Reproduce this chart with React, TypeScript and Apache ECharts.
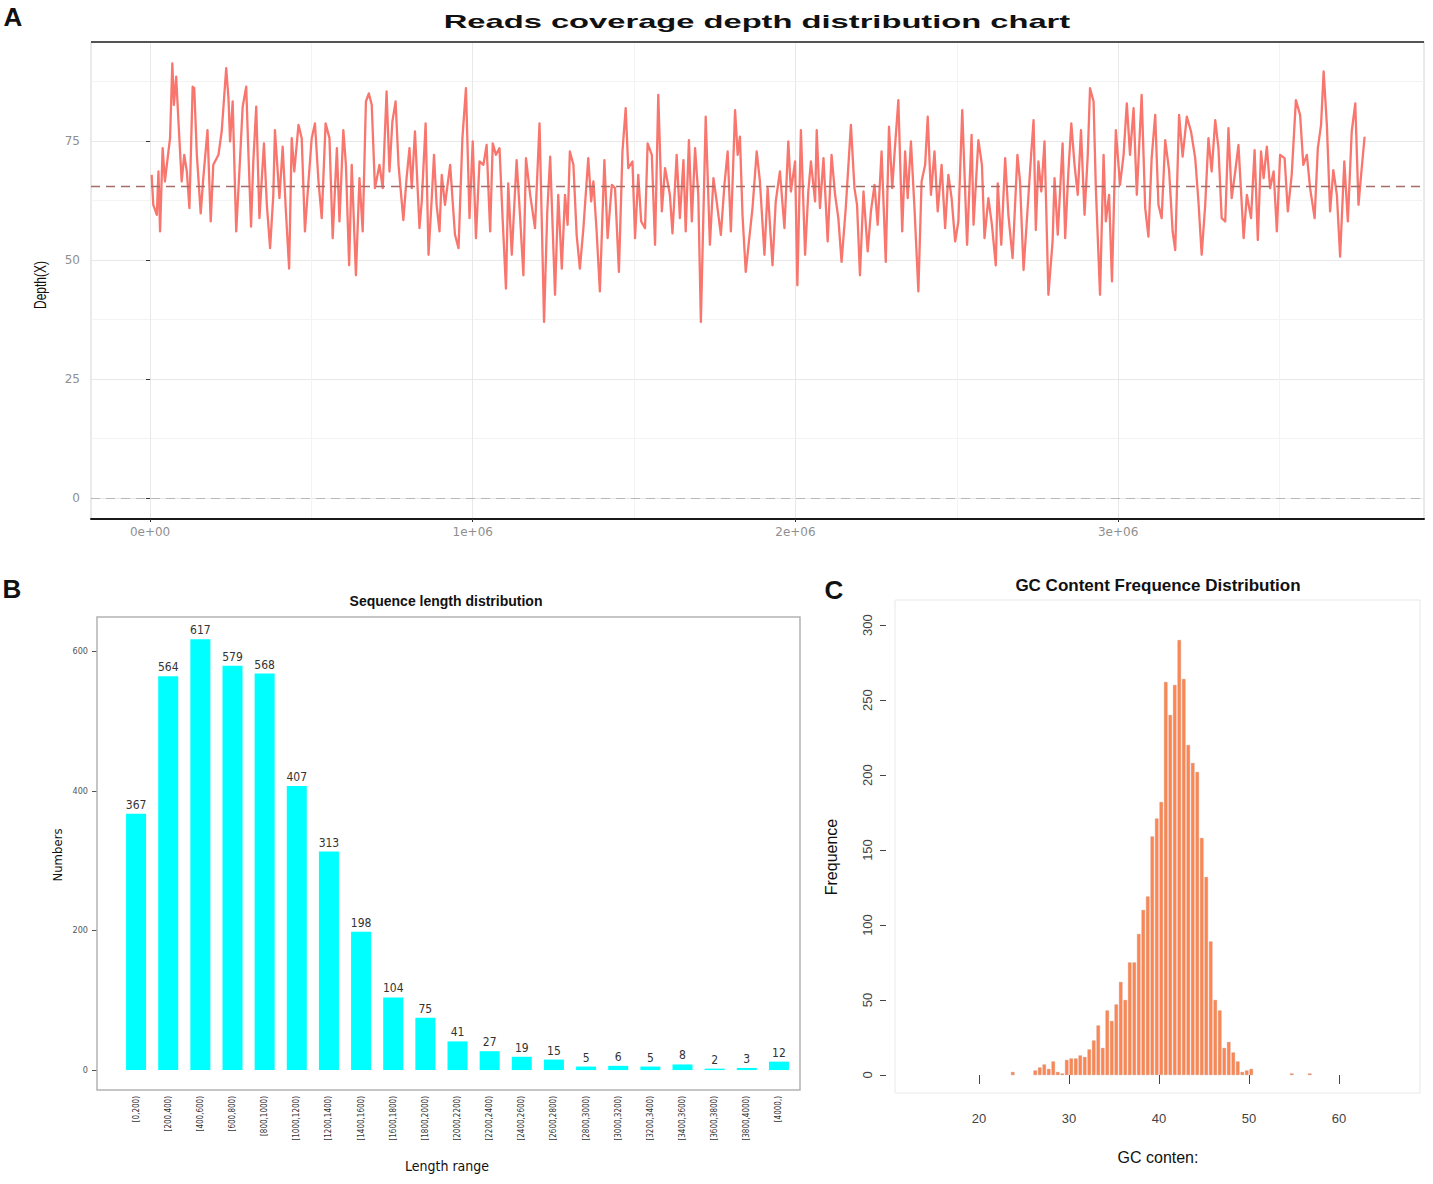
import React, { useEffect, useRef } from "react";
import * as echarts from "echarts";

// ---------- Panel A: reads coverage depth (position in kb, depth X) ----------
const depthPoints: [number, number][] = [
  [5,67.9],[10,61.6],[21,59.5],[26,68.6],[31,56.0],[39,73.5],[46,66.5],[52,70.0],[62,75.6],[69,91.3],[74,82.6],[81,88.5],[88,79.1],[98,66.5],[106,72.1],[114,68.6],[122,60.9],[132,86.4],[137,86.1],[145,72.1],[157,59.8],[165,67.2],[178,77.3],[188,58.1],[196,70.0],[212,72.1],[222,77.0],[236,90.3],[243,84.0],[248,74.9],[256,83.3],[267,56.0],[279,71.4],[287,82.2],[298,86.4],[305,72.1],[313,57.0],[320,70.7],[329,82.2],[339,58.8],[353,74.5],[362,61.6],[372,52.5],[382,63.7],[387,77.3],[401,63.0],[411,73.8],[421,60.2],[431,48.2],[439,75.6],[447,68.6],[460,78.4],[470,75.6],[480,56.0],[491,66.5],[501,75.6],[511,78.7],[522,66.5],[532,58.8],[544,78.7],[556,75.6],[566,54.6],[579,73.5],[587,58.1],[599,77.3],[607,70.0],[617,48.9],[625,70.0],[638,46.8],[649,67.2],[659,56.0],[669,83.3],[678,85.0],[687,82.6],[697,65.1],[711,70.0],[721,65.1],[733,85.4],[742,68.6],[751,79.1],[761,83.3],[770,70.0],[785,58.4],[795,67.2],[804,73.5],[811,65.1],[821,77.0],[835,56.7],[842,62.3],[854,78.7],[863,51.1],[873,63.0],[880,72.1],[888,61.6],[897,56.0],[904,67.9],[914,61.6],[930,70.0],[945,55.3],[956,52.5],[968,75.6],[979,86.1],[990,58.8],[1000,74.9],[1010,54.6],[1021,70.7],[1033,70.0],[1043,74.2],[1054,56.0],[1062,74.5],[1072,72.1],[1083,73.5],[1093,58.1],[1103,44.0],[1110,66.1],[1121,51.1],[1136,71.0],[1147,58.8],[1157,46.8],[1165,71.4],[1178,63.7],[1193,56.7],[1207,78.7],[1214,58.1],[1221,37.0],[1231,60.2],[1240,71.7],[1255,42.7],[1265,63.7],
  [1270,56.7],[1276,48.2],[1286,63.7],[1294,57.4],[1301,72.8],[1312,70.0],[1322,55.3],[1332,48.2],[1343,56.7],[1358,71.4],[1367,62.3],[1374,66.5],[1384,56.0],[1394,43.4],[1408,71.0],[1418,54.6],[1431,65.8],[1441,65.1],[1453,47.5],[1464,72.8],[1474,81.9],[1482,69.3],[1495,70.7],[1503,54.6],[1513,67.9],[1522,58.1],[1534,56.7],[1542,74.5],[1555,72.1],[1565,53.2],[1575,84.7],[1586,60.2],[1596,69.3],[1611,63.7],[1619,55.6],[1632,72.1],[1642,58.8],[1653,71.0],[1660,56.0],[1670,75.2],[1679,58.1],[1689,73.5],[1699,63.7],[1707,37.0],[1722,80.1],[1735,53.2],[1746,67.2],[1756,62.3],[1769,55.3],[1780,65.8],[1790,72.8],[1800,56.0],[1813,81.5],[1821,72.1],[1828,75.9],[1836,59.5],[1846,47.5],[1856,53.9],[1867,60.9],[1880,72.8],[1890,66.5],[1904,51.1],[1914,65.1],[1929,48.9],[1939,62.3],[1952,68.6],[1966,56.7],[1978,74.9],[1986,64.4],[1999,70.7],[2006,44.7],[2017,77.3],[2030,51.1],[2040,64.4],[2048,70.7],[2061,62.3],[2066,77.3],[2076,60.9],[2087,71.4],[2100,53.9],[2112,72.1],[2123,63.7],[2133,58.8],[2143,49.6],[2156,60.9],[2172,78.4],[2183,65.1],[2191,61.6],[2200,46.8],[2211,64.4],[2224,51.8],[2234,60.2],[2245,65.8],[2255,57.4],[2267,72.8],[2280,49.6],[2290,78.0],[2300,65.1],[2309,74.2],[2319,83.6],[2331,56.0],[2340,72.8],[2348,63.0],[2358,74.9],[2369,60.9],[2381,43.4],[2391,66.5],[2402,70.0],[2410,80.1],[2420,63.7],[2431,72.8],[2441,60.2],[2453,70.0],[2464,56.7],[2474,67.9],[2484,63.0],[2495,53.9],[2505,58.1],[2517,81.5],[2532,53.2],[2546,76.3],
  [2552,57.4],[2567,75.2],[2578,70.0],[2586,54.6],[2598,63.0],[2609,57.4],[2621,48.9],[2627,66.1],[2638,53.2],[2650,71.4],[2660,59.5],[2673,50.4],[2688,72.1],[2696,66.5],[2707,47.9],[2717,58.1],[2727,68.6],[2738,79.4],[2745,56.3],[2753,70.7],[2762,64.4],[2772,74.9],[2784,42.7],[2797,53.9],[2803,67.2],[2813,55.3],[2828,74.5],[2836,54.6],[2846,68.6],[2855,78.7],[2865,70.0],[2875,63.7],[2885,77.3],[2896,59.5],[2906,72.1],[2913,86.1],[2924,83.3],[2931,65.1],[2944,42.7],[2955,72.1],[2962,58.1],[2972,63.7],[2981,45.5],[2993,77.3],[3006,65.8],[3017,72.1],[3027,82.9],[3037,72.1],[3048,81.9],[3058,63.7],[3073,84.7],[3084,60.9],[3094,54.9],[3104,71.4],[3115,80.5],[3125,61.6],[3135,58.8],[3146,75.2],[3158,68.9],[3169,56.0],[3177,52.1],[3189,80.5],[3200,71.7],[3213,80.1],[3226,77.0],[3239,71.4],[3249,62.3],[3259,51.1],[3270,61.6],[3280,75.6],[3290,68.6],[3301,79.4],[3311,73.5],[3321,58.8],[3332,58.1],[3342,77.7],[3352,63.0],[3363,68.6],[3373,74.2],[3389,54.6],[3399,63.7],[3412,58.8],[3423,73.1],[3433,54.2],[3443,72.8],[3451,67.2],[3461,73.8],[3471,65.1],[3482,68.6],[3492,56.0],[3502,72.1],[3516,71.4],[3526,60.2],[3538,67.9],[3551,83.6],[3564,80.5],[3574,70.0],[3585,72.1],[3595,65.1],[3609,58.8],[3619,73.5],[3629,78.4],[3637,89.6],[3647,78.4],[3657,60.2],[3667,68.9],[3678,63.7],[3688,50.7],[3701,70.7],[3712,58.1],[3724,77.0],[3735,82.9],[3745,61.6],[3755,69.3],[3764,75.9],
];
const depthMean = 65.5;
const depthXTicksKb = [0, 1000, 2000, 3000];
const depthXTickLabels = ["0e+00", "1e+06", "2e+06", "3e+06"];
const depthXMinorKb = [500, 1500, 2500, 3500];
const depthYTicks = [0, 25, 50, 75];
const depthYMinor = [12.5, 37.5, 62.5, 87.5];

// ---------- Panel B: sequence length distribution ----------
const lengthCategories = [
  "[0,200)", "[200,400)", "[400,600)", "[600,800)", "[800,1000)", "[1000,1200)", "[1200,1400)",
  "[1400,1600)", "[1600,1800)", "[1800,2000)", "[2000,2200)", "[2200,2400)", "[2400,2600)",
  "[2600,2800)", "[2800,3000)", "[3000,3200)", "[3200,3400)", "[3400,3600)", "[3600,3800)",
  "[3800,4000)", "[4000,)",
];
const lengthCounts = [367, 564, 617, 579, 568, 407, 313, 198, 104, 75, 41, 27, 19, 15, 5, 6, 5, 8, 2, 3, 12];
const lengthYTicks = [0, 200, 400, 600];

// ---------- Panel C: GC content histogram (bin centre, frequency) ----------
const gcBinCentres = [
  23.75, 26.25, 26.75, 27.25, 27.75, 28.25, 28.75, 29.25, 29.75, 30.25, 30.75, 31.25, 31.75, 32.25,
  32.75, 33.25, 33.75, 34.25, 34.75, 35.25, 35.75, 36.25, 36.75, 37.25, 37.75, 38.25, 38.75, 39.25,
  39.75, 40.25, 40.75, 41.25, 41.75, 42.25, 42.75, 43.25, 43.75, 44.25, 44.75, 45.25, 45.75, 46.25,
  46.75, 47.25, 47.75, 48.25, 48.75, 49.25, 49.75, 50.25, 54.75, 56.75,
];
const gcFrequencies = [
  2, 3, 5, 7, 4, 9, 2, 1, 10, 11, 11, 13, 12, 17,
  23, 33, 18, 43, 36, 47, 62, 50, 75, 75, 94, 110, 119, 159,
  171, 182, 262, 240, 260, 290, 264, 220, 208, 202, 158, 132, 89, 50,
  43, 18, 22, 15, 9, 2, 3, 4, 1, 1,
];
const gcXTicks = [20, 30, 40, 50, 60];
const gcYTicks = [0, 50, 100, 150, 200, 250, 300];

const FONT = "'Liberation Sans', Arial, Helvetica, sans-serif";
const WIDE = "'DejaVu Sans', Verdana, sans-serif";
const NARROW = "'Liberation Sans Narrow', 'DejaVu Sans Condensed', 'Liberation Sans', sans-serif";

function measure(text: string, font: string): number {
  const c = document.createElement("canvas");
  const ctx = c.getContext("2d");
  if (!ctx) return text.length * 10;
  ctx.font = font;
  return ctx.measureText(text).width;
}

function txt(text: string, x: number, y: number, size: number, o: any = {}) {
  return {
    type: "text",
    x,
    y,
    rotation: o.rot || 0,
    scaleX: o.sx || 1,
    scaleY: o.sy || 1,
    z: 100,
    silent: true,
    style: {
      text,
      fontSize: size,
      fontWeight: o.bold ? "bold" : "normal",
      fontFamily: o.family || FONT,
      fill: o.color || "#111",
      align: "center",
      verticalAlign: "middle",
      textAlign: "center",
      textVerticalAlign: "middle",
    },
  };
}

export default function App() {
  const ref = useRef<HTMLDivElement>(null);

  useEffect(() => {
    document.body.style.margin = "0";
    if (!ref.current) return;
    const chart = echarts.init(ref.current, undefined, { renderer: "svg" });

    const titleA = "Reads coverage depth distribution chart";
    const titleFont = `bold 18px ${FONT}`;
    const titleW = measure(titleA, titleFont);
    const titleScale = titleW > 0 ? 627 / titleW : 1.4;

    const option: any = {
      animation: false,
      backgroundColor: "#ffffff",
      grid: [
        { left: 91, top: 42, width: 1333, height: 477, show: true, borderColor: "#d4d4d4", borderWidth: 1 },
        { left: 120, top: 617, width: 675, height: 473 },
        { left: 895, top: 600, width: 525, height: 493, show: true, borderColor: "#e8e8e8", borderWidth: 1 },
      ],
      xAxis: [
        {
          type: "value", gridIndex: 0, min: -183, max: 3948,
          axisLine: { show: true, onZero: false, lineStyle: { color: "#1a1a1a", width: 2 } },
          axisTick: { show: true, customValues: depthXTicksKb, length: 3, lineStyle: { color: "#333" } },
          axisLabel: {
            customValues: depthXTicksKb,
            formatter: (v: number) => {
              const i = depthXTicksKb.indexOf(v);
              return i >= 0 ? depthXTickLabels[i] : "";
            },
            color: "#8f8f8f", fontSize: 12, fontFamily: WIDE, margin: 7,
          },
          splitLine: { show: true, lineStyle: { color: "#e8e8e8", width: 1 } },
        },
        {
          type: "value", gridIndex: 0, min: -183, max: 3948,
          axisLine: { show: false },
          axisTick: { show: false, customValues: depthXMinorKb },
          axisLabel: { show: false },
          splitLine: { show: true, lineStyle: { color: "#f3f3f3", width: 1 } },
        },
        {
          type: "category", gridIndex: 1, data: lengthCategories,
          axisLine: { show: false }, axisTick: { show: false },
          axisLabel: { rotate: 90, interval: 0, fontSize: 8, color: "#333", margin: 6, fontFamily: NARROW },
        },
        {
          type: "value", gridIndex: 2, min: 10.667, max: 69,
          axisLine: { show: false },
          axisTick: { show: true, customValues: gcXTicks, length: 9, lineStyle: { color: "#444" } },
          axisLabel: { customValues: gcXTicks, fontSize: 13, color: "#444", margin: 19, fontFamily: FONT },
          splitLine: { show: false },
        },
      ],
      yAxis: [
        {
          type: "value", gridIndex: 0, min: -4.4, max: 95.8,
          axisLine: { show: false },
          axisTick: { show: true, customValues: depthYTicks, length: 4, lineStyle: { color: "#333" } },
          axisLabel: { customValues: depthYTicks, color: "#8f8f8f", fontSize: 12, fontFamily: WIDE, margin: 11 },
          splitLine: { show: true, lineStyle: { color: "#e8e8e8", width: 1 } },
        },
        {
          type: "value", gridIndex: 0, min: -4.4, max: 95.8,
          axisLine: { show: false },
          axisTick: { show: false, customValues: depthYMinor },
          axisLabel: { show: false },
          splitLine: { show: true, lineStyle: { color: "#f3f3f3", width: 1 } },
        },
        {
          type: "value", gridIndex: 1, min: -28.6, max: 649, offset: 23,
          axisLine: { show: false },
          axisTick: { show: true, customValues: lengthYTicks, length: 5, lineStyle: { color: "#555" } },
          axisLabel: { customValues: lengthYTicks, fontSize: 9, color: "#555", margin: 9, fontFamily: NARROW },
          splitLine: { show: false },
        },
        {
          type: "value", gridIndex: 2, min: -12, max: 316.7, offset: 9,
          axisLine: { show: false },
          axisTick: { show: true, customValues: gcYTicks, length: 6, lineStyle: { color: "#444" } },
          axisLabel: { customValues: gcYTicks, rotate: 90, fontSize: 13, color: "#444", margin: 12, fontFamily: FONT },
          splitLine: { show: false },
        },
      ],
      series: [
        {
          type: "line", xAxisIndex: 0, yAxisIndex: 0,
          data: depthPoints,
          showSymbol: false, symbol: "none",
          lineStyle: { color: "#F8766D", width: 2.3, join: "round" },
          z: 3,
          markLine: {
            silent: true, symbol: ["none", "none"], label: { show: false },
            data: [
              { yAxis: depthMean, lineStyle: { color: "#a36d68", type: [9, 6], width: 1.3 } },
              { yAxis: 0, lineStyle: { color: "#b8b8b8", type: [9, 6], width: 1.2 } },
            ],
          },
        },
        {
          type: "bar", xAxisIndex: 2, yAxisIndex: 2,
          data: lengthCounts, barWidth: 20,
          itemStyle: { color: "#00FFFF" },
          label: { show: true, position: "top", distance: 3, fontSize: 12, color: "#333", fontFamily: NARROW },
        },
        {
          type: "bar", xAxisIndex: 3, yAxisIndex: 3,
          data: gcBinCentres.map((x, i) => [x, gcFrequencies[i]]),
          barWidth: 3.4,
          itemStyle: { color: "#FF8650", borderColor: "#b98a76", borderWidth: 0.35 },
        },
      ],
      graphic: [
        txt("A", 13, 17, 26, { bold: true }),
        txt(titleA, 757, 22, 18, { bold: true, sx: titleScale }),
        txt("Depth(X)", 40, 285, 12, { rot: Math.PI / 2, sy: 1.35 }),
        { type: "line", z: 100, silent: true, shape: { x1: 91, y1: 42, x2: 1424, y2: 42 }, style: { stroke: "#222", lineWidth: 1.5 } },
        txt("B", 12, 589, 26, { bold: true }),
        txt("Sequence length distribution", 446, 601, 14, { bold: true }),
        { type: "rect", z: 100, silent: true, shape: { x: 97, y: 617, width: 703, height: 473 }, style: { fill: "none", stroke: "#b3b3b3", lineWidth: 1.5 } },
        txt("Numbers", 57, 855, 13, { rot: Math.PI / 2, family: NARROW }),
        txt("Length range", 447, 1166, 14, { family: NARROW }),
        txt("C", 834, 590, 26, { bold: true }),
        txt("GC Content Frequence Distribution", 1158, 585, 17, { bold: true }),
        txt("Frequence", 831, 857, 16, { rot: Math.PI / 2 }),
        txt("GC conten:", 1158, 1157, 16),
      ],
    };

    chart.setOption(option);
    return () => chart.dispose();
  }, []);

  return <div ref={ref} style={{ width: 1433, height: 1184 }} />;
}
